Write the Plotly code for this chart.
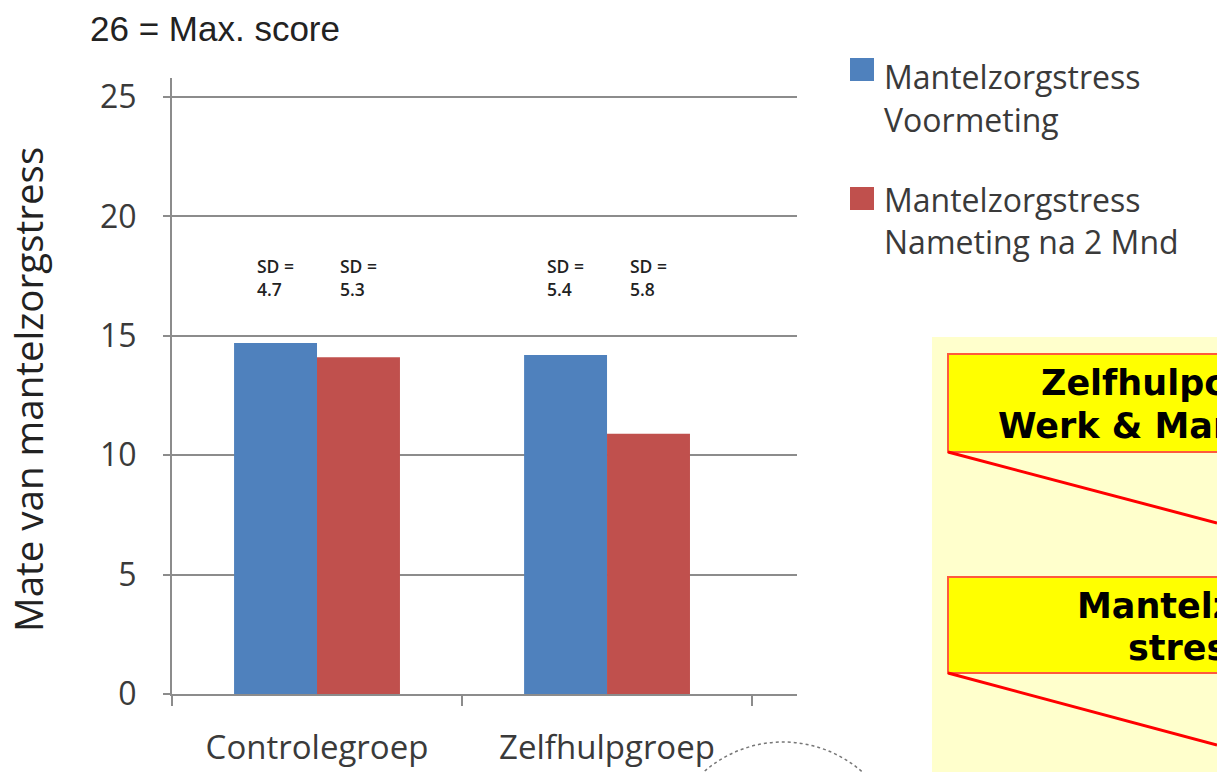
import plotly.graph_objects as go

W, H = 1217, 772

categories = ["Controlegroep", "Zelfhulpgroep"]
voormeting = [14.7, 14.2]
nameting = [14.1, 10.9]
sd_voor = ["4.7", "5.4"]
sd_na = ["5.3", "5.8"]
series_names = ["Mantelzorgstress<br>Voormeting", "Mantelzorgstress<br>Nameting na 2 Mnd"]
colors = ["#4F81BD", "#C0504D"]
y_ticks = [0, 5, 10, 15, 20, 25]

TXT = "#3a3a3a"
GRID = "#8c8c8c"
FONT = "Open Sans"


def px(x):
    return x / W


def py(y):
    return 1 - y / H


fig = go.Figure()
fig.add_trace(go.Bar(x=categories, y=voormeting, name=series_names[0],
                     marker=dict(color=colors[0], line=dict(width=0))))
fig.add_trace(go.Bar(x=categories, y=nameting, name=series_names[1],
                     marker=dict(color=colors[1], line=dict(width=0))))

annotations = []
# SD labels above bars
for i in range(len(categories)):
    for off, sd in ((-0.143, sd_voor[i]), (0.143, sd_na[i])):
        annotations.append(dict(x=i + off, y=17.45, xref="x", yref="y",
                                text="SD =<br>" + sd, align="left",
                                showarrow=False, xanchor="center", yanchor="middle",
                                font=dict(family=FONT, size=17.5, color="#222222",
                                          weight=600)))

# Title note
annotations.append(dict(x=px(88), y=py(28), xref="paper", yref="paper",
                        text="26 = Max. score", showarrow=False, xanchor="left",
                        yanchor="middle",
                        font=dict(family="Liberation Sans", size=35, color="#222222")))

# Y axis title
annotations.append(dict(x=px(28), y=py(390), xref="paper", yref="paper",
                        text="Mate van mantelzorgstress", showarrow=False,
                        textangle=-90, xanchor="center", yanchor="middle",
                        font=dict(family=FONT, size=38.5, color="#222222")))

# Manual legend
leg_rows = [(58, 76, 119), (187, 199, 241)]
shapes = []
for k, (sq_top, l1, l2) in enumerate(leg_rows):
    shapes.append(dict(type="rect", xref="paper", yref="paper",
                       x0=px(850), x1=px(874), y0=py(sq_top), y1=py(sq_top + 23),
                       fillcolor=colors[k], line=dict(width=0)))
    line1, line2 = series_names[k].split("<br>")
    annotations.append(dict(x=px(882), y=py(l1), xref="paper", yref="paper",
                            text=line1, showarrow=False, xanchor="left", yanchor="middle",
                            font=dict(family=FONT, size=32, color=TXT)))
    annotations.append(dict(x=px(882), y=py(l2), xref="paper", yref="paper",
                            text=line2, showarrow=False, xanchor="left", yanchor="middle",
                            font=dict(family=FONT, size=32, color=TXT)))

# Right-hand diagram panel
shapes.append(dict(type="rect", xref="paper", yref="paper",
                   x0=px(932), x1=px(1240), y0=py(337), y1=py(800),
                   fillcolor="#FFFFCC", line=dict(width=0), layer="below"))
for (top, bot) in ((354, 452), (577, 673)):
    shapes.append(dict(type="rect", xref="paper", yref="paper",
                       x0=px(948), x1=px(1240), y0=py(top), y1=py(bot),
                       fillcolor="#FFFF00", line=dict(color="#FF5A3C", width=2)))
shapes.append(dict(type="line", xref="paper", yref="paper",
                   x0=px(948), y0=py(452), x1=px(1217), y1=py(523),
                   line=dict(color="#FF0000", width=3)))
shapes.append(dict(type="line", xref="paper", yref="paper",
                   x0=px(948), y0=py(673), x1=px(1217), y1=py(745),
                   line=dict(color="#FF0000", width=3)))
box_texts = [("Zelfhulpcursus", 1039, 383), ("Werk & Mantelzorg", 996, 426),
             ("Mantelzorg-", 1075, 606), ("stress", 1126, 648)]
for t, x0, yc in box_texts:
    annotations.append(dict(x=px(x0), y=py(yc), xref="paper", yref="paper",
                            text="<b>%s</b>" % t, showarrow=False, xanchor="left",
                            yanchor="middle",
                            font=dict(family="DejaVu Sans", size=35, color="#000000")))

# dashed arc at bottom
shapes.append(dict(type="circle", xref="paper", yref="paper",
                   x0=px(663), x1=px(903), y0=py(742), y1=py(982),
                   line=dict(color="#777777", width=1.5, dash="dot")))

fig.update_layout(
    width=W, height=H, autosize=False,
    margin=dict(l=0, r=0, t=0, b=0, pad=0),
    paper_bgcolor="white", plot_bgcolor="white",
    barmode="group", bargap=0.428, bargroupgap=0,
    showlegend=False,
    shapes=shapes, annotations=annotations,
    xaxis=dict(domain=[px(172), px(797)], type="category", automargin=False,
               range=[-0.5, 1.655], tickson="boundaries",
               ticks="outside", ticklen=10, tickwidth=2, tickcolor=GRID,
               showline=True, linecolor=GRID, linewidth=2, showgrid=False,
               tickfont=dict(family=FONT, size=33, color=TXT),
               ticklabelstandoff=23),
    yaxis=dict(domain=[78 / H, 1 - 78 / H], range=[0, 25.8], automargin=False,
               tickvals=y_ticks, ticks="outside", ticklen=7, tickwidth=2,
               tickcolor=GRID, showline=True, linecolor=GRID, linewidth=2,
               showgrid=True, gridcolor=GRID, gridwidth=2, zeroline=False,
               tickfont=dict(family=FONT, size=32, color=TXT),
               ticklabelstandoff=20),
)

fig.write_html("out.html",
               config=dict(displayModeBar=False, responsive=False),
               post_script="document.body.style.margin='0';document.body.style.overflow='hidden';")
